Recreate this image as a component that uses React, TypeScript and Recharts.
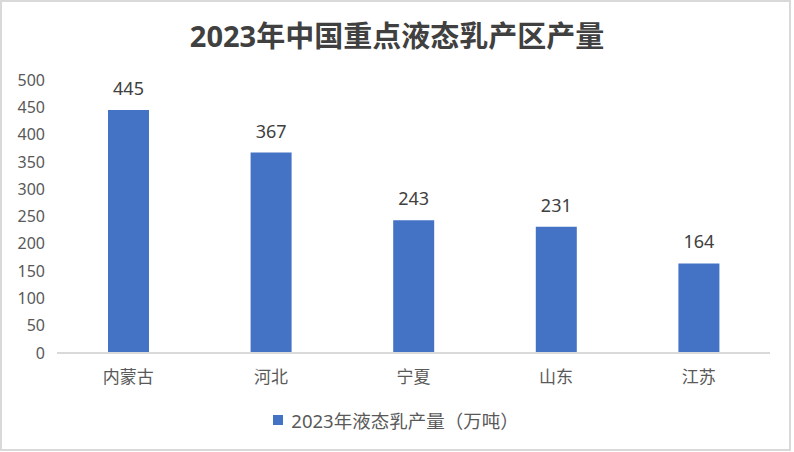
import React from 'react';
import { BarChart, Bar, XAxis, YAxis, Legend, LabelList } from 'recharts';

const regions = ['内蒙古', '河北', '宁夏', '山东', '江苏'];
const output = [445, 367, 243, 231, 164];
const yTicks = [0, 50, 100, 150, 200, 250, 300, 350, 400, 450, 500];

const seriesName = '2023年液态乳产量（万吨）';
const font = "'Noto Sans', 'Noto Sans CJK SC', sans-serif";

const chartData = regions.map((name, i) => ({ name, value: output[i] }));

const LegendBox = () => (
  <div
    style={{
      height: 59,
      display: 'flex',
      justifyContent: 'center',
      alignItems: 'center',
      paddingBottom: 6,
      paddingLeft: 22,
      boxSizing: 'border-box',
      fontFamily: font,
      fontSize: 18.5,
      color: '#595959',
    }}
  >
    <span style={{ width: 10, height: 10, background: '#4472C4', marginRight: 8, display: 'inline-block' }} />
    <span>{seriesName}</span>
  </div>
);

const App: React.FC = () => {
  return (
    <div
      style={{
        position: 'absolute',
        left: 0,
        top: 0,
        width: 791,
        height: 451,
        border: '2px solid #d9d9d9',
        boxSizing: 'border-box',
        background: '#fff',
      }}
    >
      <div
        style={{
          position: 'absolute',
          left: -2,
          top: 14,
          width: 794,
          textAlign: 'center',
          fontFamily: font,
          fontWeight: 'bold',
          fontSize: 29,
          color: '#404040',
          lineHeight: '40px',
        }}
      >
        2023年中国重点液态乳产区产量
      </div>
      <div style={{ position: 'absolute', left: -2, top: -2 }}>
        <BarChart
          width={794}
          height={452}
          data={chartData}
          margin={{ top: 80, right: 24, left: 0, bottom: 0 }}
        >
          <XAxis
            dataKey="name"
            height={40}
            axisLine={{ stroke: '#d9d9d9', strokeWidth: 2 }}
            tickLine={false}
            tickMargin={12}
            tick={{ fill: '#595959', fontSize: 17, fontFamily: font }}
          />
          <YAxis
            width={57}
            domain={[0, 500]}
            ticks={yTicks}
            interval={0}
            axisLine={false}
            tickLine={false}
            tickMargin={6}
            tick={{ fill: '#595959', fontSize: 16, fontFamily: font }}
          />
          <Legend verticalAlign="bottom" height={59} content={<LegendBox />} />
          <Bar dataKey="value" name={seriesName} fill="#4472C4" barSize={41} isAnimationActive={false}>
            <LabelList
              dataKey="value"
              position="top"
              offset={15}
              fill="#404040"
              fontSize={18}
              fontFamily={font}
            />
          </Bar>
        </BarChart>
      </div>
    </div>
  );
};

export default App;
